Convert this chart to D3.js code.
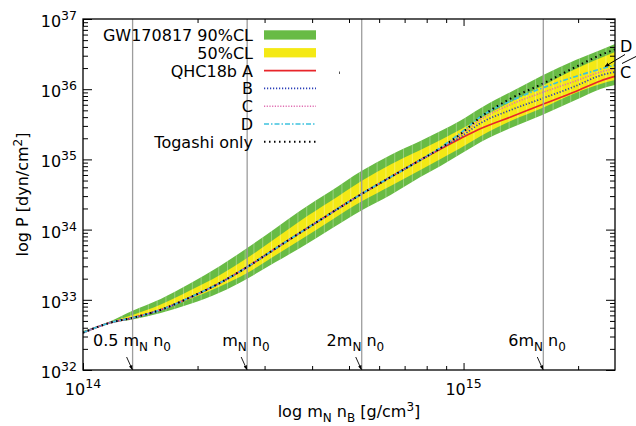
<!DOCTYPE html>
<html>
<head>
<meta charset="utf-8">
<script src="https://cdn.jsdelivr.net/npm/d3@7"></script>
<style>
  body { margin: 0; background: #fff; }
  text { font-family: "DejaVu Sans", sans-serif; fill: #000; }
</style>
</head>
<body>
<script>
"use strict";

// mass density m_N n_B [g/cm^3]
const rho = [1.00e14, 1.18e14, 1.35e14, 1.60e14, 1.91e14, 2.29e14, 2.70e14, 3.20e14, 3.72e14, 4.47e14,
             5.39e14, 6.43e14, 7.70e14, 8.70e14, 9.82e14, 1.11e15, 1.33e15, 1.61e15, 1.97e15, 2.29e15, 2.50e15];

// GW170817 bands, pressure [dyn/cm^2]
const band90Hi = [3.59e32, 4.96e32, 6.99e32, 1.03e33, 1.70e33, 3.03e33, 5.47e33, 1.04e34, 1.86e34, 3.52e34,
                  6.84e34, 1.16e35, 1.83e35, 2.54e35, 3.58e35, 5.40e35, 9.12e35, 1.57e36, 2.61e36, 3.62e36, 4.40e36];
const band90Lo = [3.37e32, 4.67e32, 5.24e32, 6.49e32, 8.71e32, 1.27e33, 2.00e33, 3.42e33, 5.47e33, 1.01e34,
                  1.87e34, 3.11e34, 5.61e34, 8.05e34, 1.19e35, 1.77e35, 2.80e35, 4.29e35, 7.02e35, 1.01e36, 1.15e36];
const band50Hi = [3.48e32, 4.83e32, 6.07e32, 8.57e32, 1.36e33, 2.26e33, 3.94e33, 7.47e33, 1.33e34, 2.53e34,
                  4.92e34, 8.46e34, 1.36e35, 1.89e35, 2.67e35, 3.89e35, 6.57e35, 1.11e36, 1.94e36, 2.78e36, 3.39e36];
const band50Lo = [3.40e32, 4.72e32, 5.50e32, 7.16e32, 1.03e33, 1.55e33, 2.41e33, 4.29e33, 7.11e33, 1.34e34,
                  2.51e34, 4.18e34, 7.06e34, 1.01e35, 1.45e35, 2.15e35, 3.52e35, 5.40e35, 8.83e35, 1.19e36, 1.35e36];

// EOS curves: shared low-density part, then the individual high-density parts
const pShared = [3.40e32, 4.72e32, 5.54e32, 7.20e32, 1.08e33, 1.74e33, 2.93e33, 5.35e33, 9.03e33, 1.70e34,
                 3.21e34, 5.61e34, 9.80e34];
const pA = pShared.concat([1.41e35, 1.99e35, 2.76e35, 4.02e35, 6.05e35, 9.27e35, 1.31e36, 1.52e36]);
const pB = pShared.concat([1.43e35, 2.09e35, 3.30e35, 5.05e35, 7.37e35, 1.11e36, 1.57e36, 1.76e36]);
const pC = pShared.concat([1.45e35, 2.23e35, 3.70e35, 6.05e35, 8.97e35, 1.31e36, 1.76e36, 1.97e36]);
const pD = pShared.concat([1.48e35, 2.38e35, 4.09e35, 6.79e35, 1.04e36, 1.52e36, 1.94e36, 2.21e36]);
const pTogashi = pShared.concat([1.45e35, 2.30e35, 4.02e35, 7.37e35, 1.19e36, 2.07e36, 3.07e36, 3.68e36]);

// multiples of nuclear saturation density
const nucRho = [1.35e14, 2.70e14, 5.40e14, 1.62e15];
const nucPrefix = ["0.5 m", "m", "2m", "6m"];

const xMajor = [1e14, 1e15];
const xMinor = [2e14, 3e14, 4e14, 5e14, 6e14, 7e14, 8e14, 9e14, 2e15];
const yMajor = [1e32, 1e33, 1e34, 1e35, 1e36, 1e37];

const legendNames = ["GW170817 90%CL", "50%CL", "QHC18b A", "B", "C", "D", "Togashi only"];

(function() {

const W = 636, H = 426;
const pl = 83, pr = 615, pt = 19, pb = 370;

const green = "#68bb45", yellow = "#f4e915";

const x = d3.scaleLog().domain([1e14, 2.5e15]).range([pl, pr]);
const y = d3.scaleLog().domain([1e32, 1e37]).range([pb, pt]);

const svg = d3.select("body").append("svg")
    .attr("width", W)
    .attr("height", H);

const defs = svg.append("defs");
defs.append("clipPath").attr("id", "plot")
  .append("rect").attr("x", pl).attr("y", pt).attr("width", pr - pl).attr("height", pb - pt);
defs.append("marker")
    .attr("id", "head")
    .attr("viewBox", "0 0 10 10")
    .attr("refX", 9).attr("refY", 5)
    .attr("markerWidth", 5).attr("markerHeight", 5)
    .attr("orient", "auto")
  .append("path").attr("d", "M0,1 L10,5 L0,9 z").attr("fill", "#000");

const plot = svg.append("g").attr("clip-path", "url(#plot)");

// bands
const rows = rho.map((r, i) => ({
    r: r, g0: band90Lo[i], g1: band90Hi[i], y0: band50Lo[i], y1: band50Hi[i]
}));

const area90 = d3.area().curve(d3.curveMonotoneX)
    .x(d => x(d.r)).y0(d => y(d.g0)).y1(d => y(d.g1));
const area50 = d3.area().curve(d3.curveMonotoneX)
    .x(d => x(d.r)).y0(d => y(d.y0)).y1(d => y(d.y1));

defs.append("clipPath").attr("id", "bandclip")
  .append("path").attr("d", area90(rows));

plot.append("path").attr("d", area90(rows)).attr("fill", green);
plot.append("path").attr("d", area50(rows)).attr("fill", yellow);

// faint seams of the filled segments
plot.append("g").attr("clip-path", "url(#bandclip)")
  .selectAll("line")
  .data(d3.range(x(1.2e14), pr, 8.8))
  .join("line")
    .attr("x1", d => d).attr("x2", d => d)
    .attr("y1", pt).attr("y2", pb)
    .attr("stroke", "#fff")
    .attr("stroke-opacity", 0.35)
    .attr("stroke-width", 0.9);

// nuclear density lines
svg.append("g").selectAll("line")
  .data(nucRho)
  .join("line")
    .attr("x1", d => x(d)).attr("x2", d => x(d))
    .attr("y1", pt).attr("y2", pb)
    .attr("stroke", "#9d9d9d")
    .attr("stroke-width", 1.3);

// EOS curves
const series = [
    { p: pA, color: "#e8252a", width: 1.7, dash: null },
    { p: pB, color: "#2b3fb8", width: 1.7, dash: "1.2,1.8" },
    { p: pC, color: "#e06fb2", width: 1.6, dash: "1.2,1.5" },
    { p: pD, color: "#3ec2de", width: 1.7, dash: "5,2,1.5,2" },
    { p: pTogashi, color: "#000", width: 2, dash: "1.5,3.5" }
];

const line = d3.line().curve(d3.curveMonotoneX)
    .x(d => x(d[0])).y(d => y(d[1]));

series.forEach(s => {
    plot.append("path")
        .attr("d", line(rho.map((r, i) => [r, s.p[i]])))
        .attr("fill", "none")
        .attr("stroke", s.color)
        .attr("stroke-width", s.width)
        .attr("stroke-dasharray", s.dash);
});

// tiny stray mark
svg.append("line")
    .attr("x1", 339.5).attr("x2", 339.5).attr("y1", 71.5).attr("y2", 74)
    .attr("stroke", "#555").attr("stroke-width", 1);

// legend
const legend = svg.append("g");
legendNames.forEach((name, i) => {
    const yc = 35 + i * 17.8;
    legend.append("text")
        .attr("x", 253).attr("y", yc + 6)
        .attr("text-anchor", "end")
        .attr("font-size", 16)
        .text(name);
    if (i < 2) {
        legend.append("rect")
            .attr("x", 264).attr("y", yc - 4.7)
            .attr("width", 52).attr("height", 9.3)
            .attr("fill", i === 0 ? green : yellow);
    } else {
        const s = series[i - 2];
        legend.append("line")
            .attr("x1", 264).attr("x2", 316)
            .attr("y1", yc).attr("y2", yc)
            .attr("stroke", s.color)
            .attr("stroke-width", s.width)
            .attr("stroke-dasharray", s.dash);
    }
});

// frame and ticks
const tickStyle = g => {
    g.select(".domain").remove();
    g.selectAll(".tick line").attr("stroke", "#000").attr("stroke-width", 1);
};

svg.append("g").attr("transform", `translate(0,${pb})`)
    .call(d3.axisBottom(x).tickValues(xMajor).tickSize(-7).tickFormat("")).call(tickStyle);
svg.append("g").attr("transform", `translate(0,${pb})`)
    .call(d3.axisBottom(x).tickValues(xMinor).tickSize(-4).tickFormat("")).call(tickStyle);
svg.append("g").attr("transform", `translate(0,${pt})`)
    .call(d3.axisTop(x).tickValues(xMajor).tickSize(-7).tickFormat("")).call(tickStyle);
svg.append("g").attr("transform", `translate(0,${pt})`)
    .call(d3.axisTop(x).tickValues(xMinor).tickSize(-4).tickFormat("")).call(tickStyle);

const yMinor = [];
yMajor.slice(0, -1).forEach(v => {
    for (let k = 2; k <= 9; k++) yMinor.push(v * k);
});

svg.append("g").attr("transform", `translate(${pl},0)`)
    .call(d3.axisLeft(y).tickValues(yMajor).tickSize(-9).tickFormat("")).call(tickStyle);
svg.append("g").attr("transform", `translate(${pl},0)`)
    .call(d3.axisLeft(y).tickValues(yMinor).tickSize(-5).tickFormat("")).call(tickStyle);
svg.append("g").attr("transform", `translate(${pr},0)`)
    .call(d3.axisRight(y).tickValues(yMajor).tickSize(-9).tickFormat("")).call(tickStyle);
svg.append("g").attr("transform", `translate(${pr},0)`)
    .call(d3.axisRight(y).tickValues(yMinor).tickSize(-5).tickFormat("")).call(tickStyle);

svg.append("rect")
    .attr("x", pl).attr("y", pt)
    .attr("width", pr - pl).attr("height", pb - pt)
    .attr("fill", "none")
    .attr("stroke", "#000")
    .attr("stroke-width", 1.3);

// tick labels
yMajor.forEach(v => {
    const t = svg.append("text")
        .attr("x", 77).attr("y", y(v) + 8)
        .attr("text-anchor", "end")
        .attr("font-size", 16);
    t.append("tspan").text("10");
    t.append("tspan").attr("dy", -7).attr("font-size", 12.5).text(Math.round(Math.log10(v)));
});

xMajor.forEach(v => {
    const t = svg.append("text")
        .attr("x", x(v)).attr("y", 395)
        .attr("text-anchor", "middle")
        .attr("font-size", 16);
    t.append("tspan").text("10");
    t.append("tspan").attr("dy", -7).attr("font-size", 12.5).text(Math.round(Math.log10(v)));
});

// axis titles
const yt = svg.append("text")
    .attr("transform", `translate(28,${(pt + pb) / 2}) rotate(-90)`)
    .attr("text-anchor", "middle")
    .attr("font-size", 16);
yt.append("tspan").text("log P [dyn/cm");
yt.append("tspan").attr("dy", -6).attr("font-size", 12).text("2");
yt.append("tspan").attr("dy", 6).text("]");

const xt = svg.append("text")
    .attr("x", (pl + pr) / 2).attr("y", 417)
    .attr("text-anchor", "middle")
    .attr("font-size", 16);
xt.append("tspan").text("log m");
xt.append("tspan").attr("dy", 5).attr("font-size", 12).text("N");
xt.append("tspan").attr("dy", -5).text(" n");
xt.append("tspan").attr("dy", 5).attr("font-size", 12).text("B");
xt.append("tspan").attr("dy", -5).text(" [g/cm");
xt.append("tspan").attr("dy", -6).attr("font-size", 12).text("3");
xt.append("tspan").attr("dy", 6).text("]");

// nuclear density annotations
const labelDx = [-39.6, -24.9, -35.1, -35];
nucRho.forEach((v, i) => {
    const xv = x(v);
    const a = svg.append("text")
        .attr("x", xv + labelDx[i]).attr("y", 346)
        .attr("font-size", 16);
    a.append("tspan").text(nucPrefix[i]);
    a.append("tspan").attr("dy", 5).attr("font-size", 12).text("N");
    a.append("tspan").attr("dy", -5).text(" n");
    a.append("tspan").attr("dy", 5).attr("font-size", 12).text("0");
    svg.append("line")
        .attr("x1", xv - 6).attr("y1", 357)
        .attr("x2", xv - 0.3).attr("y2", 369.5)
        .attr("stroke", "#000").attr("stroke-width", 0.9)
        .attr("marker-end", "url(#head)");
});

// end labels D and C
svg.append("text").attr("x", 620).attr("y", 52).attr("font-size", 16).text("D");
svg.append("text").attr("x", 620).attr("y", 78).attr("font-size", 16).text("C");
svg.append("line")
    .attr("x1", 625).attr("y1", 54.5).attr("x2", 605).attr("y2", 66.5)
    .attr("stroke", "#000").attr("stroke-width", 1)
    .attr("marker-end", "url(#head)");
svg.append("line")
    .attr("x1", 636).attr("y1", 56.5).attr("x2", 622).attr("y2", 63.5)
    .attr("stroke", "#000").attr("stroke-width", 1);

})();
</script>
</body>
</html>
